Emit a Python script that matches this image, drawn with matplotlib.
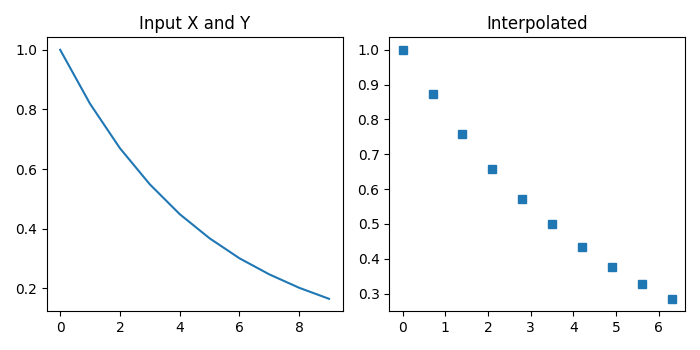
import matplotlib
matplotlib.use("Agg")
import matplotlib.pyplot as plt

# input samples
x_in = [0, 1, 2, 3, 4, 5, 6, 7, 8, 9]
y_in = [1.0, 0.819, 0.670, 0.549, 0.449, 0.368, 0.301, 0.247, 0.202, 0.165]

# interpolated samples
x_new = [0.0, 0.7, 1.4, 2.1, 2.8, 3.5, 4.2, 4.9, 5.6, 6.3]
y_new = [1.0, 0.873, 0.759, 0.658, 0.573, 0.499, 0.433, 0.376, 0.328, 0.285]

fig, (ax1, ax2) = plt.subplots(1, 2, figsize=(7, 3.5), dpi=100)

ax1.plot(x_in, y_in)
ax1.set_title("Input X and Y")

ax2.plot(x_new, y_new, 's')
ax2.set_title("Interpolated")

plt.tight_layout()
plt.savefig("out.png")
